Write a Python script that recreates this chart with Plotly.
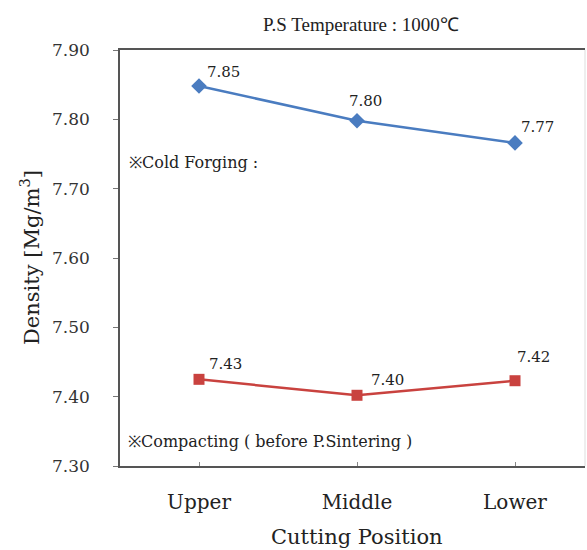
import plotly.graph_objects as go

categories = ["Upper", "Middle", "Lower"]
cold_forging = [7.848, 7.798, 7.766]
cold_forging_labels = ["7.85", "7.80", "7.77"]
compacting = [7.425, 7.402, 7.423]
compacting_labels = ["7.43", "7.40", "7.42"]
y_ticks = [7.30, 7.40, 7.50, 7.60, 7.70, 7.80, 7.90]

SERIF = "DejaVu Serif"
BLUE = "#4A7CC0"
RED = "#C9423F"

fig = go.Figure()
fig.add_trace(go.Scatter(
    x=categories, y=cold_forging, mode="lines+markers",
    line=dict(color=BLUE, width=2.5),
    marker=dict(symbol="diamond", size=12, color=BLUE),
    showlegend=False))
fig.add_trace(go.Scatter(
    x=categories, y=compacting, mode="lines+markers",
    line=dict(color=RED, width=2.5),
    marker=dict(symbol="square", size=11, color=RED),
    showlegend=False))

ann = []
shifts_blue = [(24, 14), (8, 20), (22, 16)]
for c, v, t, (dx, dy) in zip(categories, cold_forging, cold_forging_labels, shifts_blue):
    ann.append(dict(x=c, y=v, text=t, showarrow=False, xshift=dx, yshift=dy,
                    font=dict(family=SERIF, size=15, color="#222")))
shifts_red = [(26, 15), (30, 15), (18, 24)]
for c, v, t, (dx, dy) in zip(categories, compacting, compacting_labels, shifts_red):
    ann.append(dict(x=c, y=v, text=t, showarrow=False, xshift=dx, yshift=dy,
                    font=dict(family=SERIF, size=15, color="#222")))

ann.append(dict(xref="paper", yref="paper", x=(127 - 120) / 465, y=(466 - 162) / 416,
                text="※Cold Forging :", showarrow=False, xanchor="left", yanchor="middle",
                font=dict(family=SERIF, size=16, color="#222")))
ann.append(dict(xref="paper", yref="paper", x=(126 - 120) / 465, y=(466 - 441) / 416,
                text="※Compacting ( before P.Sintering )", showarrow=False,
                xanchor="left", yanchor="middle",
                font=dict(family=SERIF, size=16, color="#222")))
ann.append(dict(xref="paper", yref="paper", x=(30 - 120) / 465, y=(466 - 258) / 416,
                text="Density [Mg/m<sup>3</sup>]", showarrow=False, textangle=-90,
                xanchor="center", yanchor="middle",
                font=dict(family=SERIF, size=21, color="#222")))
ann.append(dict(xref="paper", yref="paper", x=(361 - 120) / 465, y=(466 - 24) / 416,
                text="P.S Temperature : 1000℃", showarrow=False,
                xanchor="center", yanchor="middle",
                font=dict(family="Liberation Serif", size=19, color="#222")))
ann.append(dict(xref="paper", yref="paper", x=(357 - 120) / 465, y=-(537 - 466) / 416,
                text="Cutting Position", showarrow=False,
                xanchor="center", yanchor="middle",
                font=dict(family=SERIF, size=21, color="#222")))

fig.update_layout(
    width=587, height=550,
    margin=dict(l=120, r=2, t=50, b=84),
    paper_bgcolor="white", plot_bgcolor="white",
    annotations=ann,
    xaxis=dict(type="category", range=[-0.5, 2.443], showgrid=False,
               showline=True, linecolor="#555", linewidth=1.5, mirror=True,
               ticks="inside", ticklen=4, tickcolor="#888",
               ticklabelstandoff=17,
               tickfont=dict(family=SERIF, size=20, color="#222")),
    yaxis=dict(range=[7.30, 7.90], tickvals=y_ticks, tickformat=".2f",
               showgrid=False, zeroline=False,
               showline=True, linecolor="#555", linewidth=1.5,
               ticks="outside", ticklen=5, tickcolor="#777",
               ticklabelstandoff=20,
               tickfont=dict(family=SERIF, size=17, color="#333")),
)
fig.add_shape(type="line", xref="paper", yref="paper", x0=1, x1=1, y0=0, y1=1,
              line=dict(color="#ddd", width=1))

fig.write_html("out.html")
